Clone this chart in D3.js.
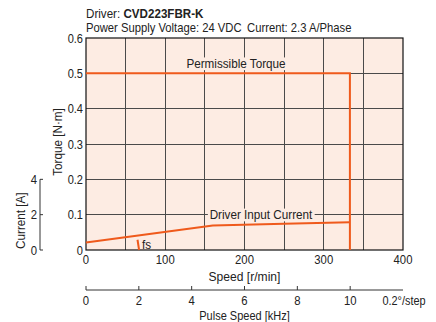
<!DOCTYPE html>
<html>
<head>
<meta charset="utf-8">
<script src="https://cdn.jsdelivr.net/npm/d3@7"></script>
<style>
  html, body { margin: 0; padding: 0; background: #fff; }
  svg { display: block; }
  text { font-family: "Liberation Sans", Arial, sans-serif; fill: #222; }
</style>
</head>
<body>
<svg id="chart" width="436" height="322"></svg>
<script>
// Speed–torque characteristics, CVD223FBR-K driver
const speedTicks = [0, 100, 200, 300, 400];
const torqueTicks = [0, 0.1, 0.2, 0.3, 0.4, 0.5, 0.6];
const currentTicks = [0, 2, 4];
const pulseTicks = [0, 2, 4, 6, 8, 10];

// Permissible torque envelope [r/min], [N·m]
const torqueSpeed = [0, 333, 333];
const torqueValue = [0.5, 0.5, 0];

// Driver input current [r/min], [A]
const currentSpeed = [0, 80, 160, 250, 333];
const currentValue = [0.42, 0.9, 1.39, 1.48, 1.57];

// Maximum starting frequency marker
const fsSpeed = [65, 67];
const fsTorque = [0.029, 0];

const svg = d3.select("#chart");
const L = 86, R = 403, T = 38, B = 250;

const x = d3.scaleLinear().domain([0, 400]).range([L, R]);
const y = d3.scaleLinear().domain([0, 0.6]).range([B, T]);
const yc = d3.scaleLinear().domain([0, 12]).range([B, T]);   // 4 A ↔ 0.2 N·m
const xp = d3.scaleLinear().domain([0, 12]).range([L, R]);   // pulse speed [kHz]

const orange = "#ef5a1c";
const grid = "#4a4a4a";
const bg = "#fdece3";

// Condensed text: a horizontally squeezed group holding one text node
function ctext(parent, px, py, str, opt = {}) {
  const g = parent.append("g")
    .attr("transform", `translate(${px},${py})${opt.rotate ? ` rotate(${opt.rotate})` : ""} scale(${opt.sx || 0.87},1)`);
  const t = g.append("text").attr("x", 0).attr("y", 0)
    .attr("text-anchor", opt.anchor || "start")
    .style("font-size", (opt.size || 13) + "px");
  if (str !== null) t.text(str);
  return { g, t };
}

// Title
const t1 = ctext(svg, L, 18, null, { sx: 0.93, size: 12.5 });
t1.t.append("tspan").text("Driver: ");
t1.t.append("tspan").style("font-weight", "bold").text("CVD223FBR-K");
ctext(svg, L, 32, "Power Supply Voltage: 24 VDC\u2002Current: 2.3 A/Phase", { sx: 0.9, size: 12.5 });

// Plot background
svg.append("rect").attr("x", L).attr("y", T).attr("width", R - L).attr("height", B - T).attr("fill", bg);

// Grid
const gx = d3.range(50, 400, 50);
svg.append("g").selectAll("line").data(gx).join("line")
  .attr("x1", d => x(d)).attr("x2", d => x(d)).attr("y1", T).attr("y2", B)
  .attr("stroke", grid).attr("stroke-width", 1).attr("shape-rendering", "crispEdges");
svg.append("g").selectAll("line").data(torqueTicks.slice(1, -1)).join("line")
  .attr("x1", L).attr("x2", R).attr("y1", d => y(d)).attr("y2", d => y(d))
  .attr("stroke", grid).attr("stroke-width", 1).attr("shape-rendering", "crispEdges");

// Frame
svg.append("rect").attr("x", L).attr("y", T).attr("width", R - L).attr("height", B - T)
  .attr("fill", "none").attr("stroke", "#111").attr("stroke-width", 1.2);

// Speed axis labels
speedTicks.forEach(d => ctext(svg, x(d), 264, String(d), { anchor: "middle" }));
ctext(svg, (L + R) / 2, 281, "Speed [r/min]", { anchor: "middle", sx: 0.93 });

// Torque axis labels
torqueTicks.forEach(d => ctext(svg, 83, y(d) + 4.5, d === 0 ? "0" : d3.format(".1f")(d), { anchor: "end", sx: 0.85 }));
ctext(svg, 62, (T + B) / 2 - 2, "Torque [N·m]", { anchor: "middle", rotate: -90, sx: 0.9 });

// Current axis
const cX = 40;
svg.append("line").attr("x1", cX).attr("x2", cX).attr("y1", yc(4)).attr("y2", yc(0))
  .attr("stroke", "#333").attr("stroke-width", 1);
svg.append("g").selectAll("line").data(currentTicks).join("line")
  .attr("x1", cX).attr("x2", cX + 3).attr("y1", d => yc(d)).attr("y2", d => yc(d))
  .attr("stroke", "#333").attr("stroke-width", 1);
currentTicks.forEach(d => ctext(svg, cX - 3, yc(d) + 4.5, String(d), { anchor: "end" }));
ctext(svg, 25, (yc(4) + yc(0)) / 2 + 6, "Current [A]", { anchor: "middle", rotate: -90, sx: 0.9 });

// Pulse speed axis
const pY = 290;
svg.append("line").attr("x1", L).attr("x2", R).attr("y1", pY).attr("y2", pY)
  .attr("stroke", "#333").attr("stroke-width", 1);
svg.append("g").selectAll("line").data(pulseTicks).join("line")
  .attr("x1", d => xp(d)).attr("x2", d => xp(d)).attr("y1", pY).attr("y2", pY - 4)
  .attr("stroke", "#333").attr("stroke-width", 1);
pulseTicks.forEach(d => ctext(svg, xp(d), 305, String(d), { anchor: "middle" }));
ctext(svg, xp(12) + 1, 305, "0.2°/step", { anchor: "middle", sx: 0.84 });
ctext(svg, (L + R) / 2, 320, "Pulse Speed [kHz]", { anchor: "middle", sx: 0.88, size: 12.5 });

// Curves
const torqueLine = d3.line().x((d, i) => x(torqueSpeed[i])).y(d => y(d));
svg.append("path").datum(torqueValue).attr("d", torqueLine)
  .attr("fill", "none").attr("stroke", orange).attr("stroke-width", 2);

const currentLine = d3.line().x((d, i) => x(currentSpeed[i])).y(d => yc(d));
svg.append("path").datum(currentValue).attr("d", currentLine)
  .attr("fill", "none").attr("stroke", orange).attr("stroke-width", 2);

svg.append("line").attr("x1", x(fsSpeed[0])).attr("y1", y(fsTorque[0]))
  .attr("x2", x(fsSpeed[1])).attr("y2", y(fsTorque[1]))
  .attr("stroke", orange).attr("stroke-width", 2);
ctext(svg, x(fsSpeed[1]) + 3, 249, "fs", { sx: 0.9 });

// Curve labels with a background that masks the grid
function label(txt, cx, cy) {
  const { g, t } = ctext(svg, cx, cy, txt, { anchor: "middle", sx: 0.9 });
  const b = t.node().getBBox();
  g.insert("rect", () => t.node()).attr("x", b.x - 2).attr("y", b.y + 1)
    .attr("width", b.width + 4).attr("height", b.height - 2).attr("fill", bg);
}
label("Permissible Torque", 236, 68);
label("Driver Input Current", 261, y(0.1) + 4.5);
</script>
</body>
</html>
